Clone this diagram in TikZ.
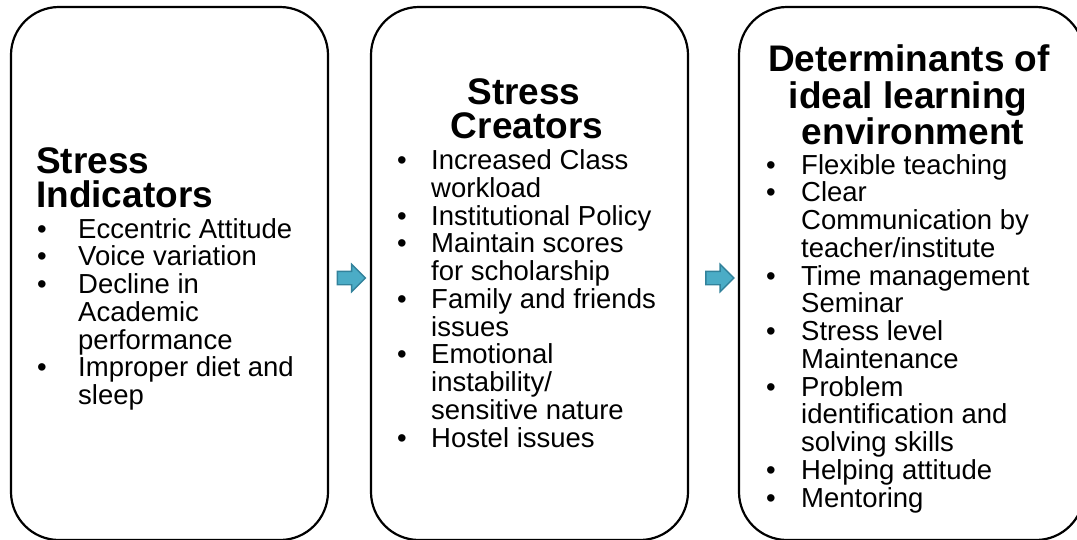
\documentclass[tikz,border=0pt]{standalone}
\usepackage{fontspec}
\setmainfont{Liberation Sans}
\usetikzlibrary{shapes.arrows}
\definecolor{arrowfill}{RGB}{75,172,198}
\definecolor{arrowline}{RGB}{50,130,155}
\begin{document}
\begin{tikzpicture}[x=1pt,y=-1pt,
  panel/.style={draw=black, line width=2.2pt, rounded corners=48pt,
    minimum height=533pt, inner sep=0pt},
  ttl/.style={font=\fontsize{37}{37}\selectfont\bfseries, inner sep=0pt},
  txt/.style={font=\fontsize{27.5}{27.75}\selectfont, inner sep=0pt, anchor=base west},
  flow/.style={single arrow, draw=arrowline, fill=arrowfill, line width=1.4pt,
    minimum height=28pt, single arrow head extend=7pt,
    single arrow head indent=0pt, inner xsep=0pt, inner ysep=6pt}]
\useasboundingbox (0,0) rectangle (1077,539);

% three panels
\node[panel, minimum width=317pt] (p1) at (169.5,273.5) {};
\node[panel, minimum width=317pt] (p2) at (529.5,273.5) {};
\node[panel, minimum width=345pt] (p3) at (911.5,273.5) {};

% block arrows between the panels
\node[flow] (a1) at (348,278) {};
\node[flow] (a2) at (716.5,278) {};

% panel 1: stress indicators
\node[ttl, anchor=base west] (t1a) at (36,173) {Stress};
\node[ttl, anchor=base west] (t1b) at (36,207) {Indicators};
\node[txt] (d1a) at (37,238) {•};
\node[txt] (l1a) at (78,238) {Eccentric Attitude};
\node[txt] (d1b) at (37,265.75) {•};
\node[txt] (l1b) at (78,265.75) {Voice variation};
\node[txt] (d1c) at (37,293.5) {•};
\node[txt] (l1c) at (78,293.5) {Decline in};
\node[txt] (l1d) at (78,321.25) {Academic};
\node[txt] (l1e) at (78,349) {performance};
\node[txt] (d1f) at (37,376.75) {•};
\node[txt] (l1f) at (78,376.75) {Improper diet and};
\node[txt] (l1g) at (78,404.5) {sleep};

% panel 2: stress creators
\node[ttl, anchor=base] (t2a) at (524,104) {Stress};
\node[ttl, anchor=base] (t2b) at (527,138) {Creators};
\node[txt] (d2a) at (397,169.5) {•};
\node[txt] (l2a) at (431,169.5) {Increased Class};
\node[txt] (l2b) at (431,197.25) {workload};
\node[txt] (d2c) at (397,225) {•};
\node[txt] (l2c) at (431,225) {Institutional Policy};
\node[txt] (d2d) at (397,252.75) {•};
\node[txt] (l2d) at (431,252.75) {Maintain scores};
\node[txt] (l2e) at (431,280.5) {for scholarship};
\node[txt] (d2f) at (397,308.25) {•};
\node[txt] (l2f) at (431,308.25) {Family and friends};
\node[txt] (l2g) at (431,336) {issues};
\node[txt] (d2h) at (397,363.75) {•};
\node[txt] (l2h) at (431,363.75) {Emotional};
\node[txt] (l2i) at (431,391.5) {instability/};
\node[txt] (l2j) at (431,419.25) {sensitive nature};
\node[txt] (d2k) at (397,447) {•};
\node[txt] (l2k) at (431,447) {Hostel issues};

% panel 3: determinants of ideal learning environment
\node[ttl, anchor=base] (t3a) at (909,71) {Determinants of};
\node[ttl, anchor=base] (t3b) at (908,108) {ideal learning};
\node[ttl, anchor=base] (t3c) at (913,144) {environment};
\node[txt] (d3a) at (766,174) {•};
\node[txt] (l3a) at (801,174) {Flexible teaching};
\node[txt] (d3b) at (766,201.75) {•};
\node[txt] (l3b) at (801,201.75) {Clear};
\node[txt] (l3c) at (801,229.5) {Communication by};
\node[txt] (l3d) at (801,257.25) {teacher/institute};
\node[txt] (d3e) at (766,285) {•};
\node[txt] (l3e) at (801,285) {Time management};
\node[txt] (l3f) at (801,312.75) {Seminar};
\node[txt] (d3g) at (766,340.5) {•};
\node[txt] (l3g) at (801,340.5) {Stress level};
\node[txt] (l3h) at (801,368.25) {Maintenance};
\node[txt] (d3i) at (766,396) {•};
\node[txt] (l3i) at (801,396) {Problem};
\node[txt] (l3j) at (801,423.75) {identification and};
\node[txt] (l3k) at (801,451.5) {solving skills};
\node[txt] (d3l) at (766,479.25) {•};
\node[txt] (l3l) at (801,479.25) {Helping attitude};
\node[txt] (d3m) at (766,507) {•};
\node[txt] (l3m) at (801,507) {Mentoring};
\end{tikzpicture}
\end{document}
